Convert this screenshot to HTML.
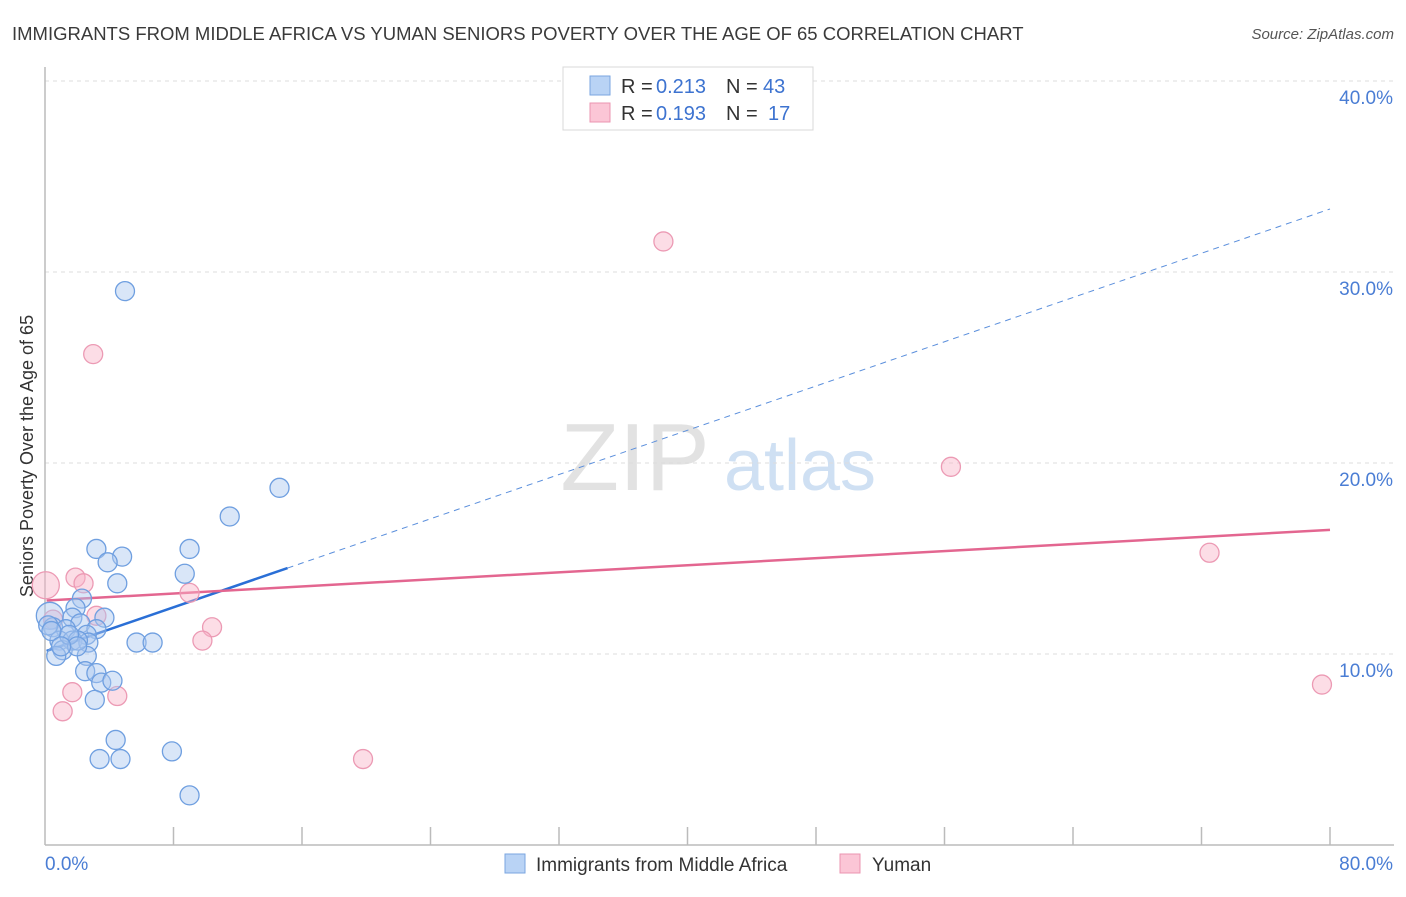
<!DOCTYPE html>
<html><head><meta charset="utf-8"><style>
body{margin:0;background:#fff;font-family:"Liberation Sans",sans-serif;}
svg text{font-family:"Liberation Sans",sans-serif;}
</style></head><body>
<svg id="chart" width="1406" height="892" xmlns="http://www.w3.org/2000/svg">
<text x="12" y="40" font-size="18.5" fill="#3a3a3a">IMMIGRANTS FROM MIDDLE AFRICA VS YUMAN SENIORS POVERTY OVER THE AGE OF 65 CORRELATION CHART</text>
<text x="1394" y="39" font-size="15" fill="#555" font-style="italic" text-anchor="end">Source: ZipAtlas.com</text>
<text transform="translate(33,456) rotate(-90)" font-size="18" fill="#333" text-anchor="middle">Seniors Poverty Over the Age of 65</text>
<g>
<text x="635" y="490" font-size="96" fill="#e2e2e2" font-family="Liberation Serif" text-anchor="middle">ZIP</text>
<text x="800" y="490" font-size="72" fill="#cfe0f3" text-anchor="middle">atlas</text>
</g>
<g id="grid"></g><g id="axes"></g><g id="trends"></g><g id="points"></g>
<g>
<rect x="563" y="67" width="250" height="63" fill="#fff" stroke="#d8d8d8"/>
<rect x="590" y="76" width="20" height="19" fill="#b9d3f5" stroke="#7aa6e0"/>
<rect x="590" y="103" width="20" height="19" fill="#fbc6d6" stroke="#eb94b0"/>
<text x="621" y="93" font-size="20" fill="#333">R =</text>
<text x="656" y="93" font-size="20" fill="#3d73d0">0.213</text>
<text x="726" y="93" font-size="20" fill="#333">N =</text>
<text x="763" y="93" font-size="20" fill="#3d73d0">43</text>
<text x="621" y="120" font-size="20" fill="#333">R =</text>
<text x="656" y="120" font-size="20" fill="#3d73d0">0.193</text>
<text x="726" y="120" font-size="20" fill="#333">N =</text>
<text x="768" y="120" font-size="20" fill="#3d73d0">17</text>
</g>
<g>
<rect x="505" y="854" width="20" height="19" fill="#b9d3f5" stroke="#7aa6e0"/>
<text x="536" y="871" font-size="19" fill="#333">Immigrants from Middle Africa</text>
<rect x="840" y="854" width="20" height="19" fill="#fbc6d6" stroke="#eb94b0"/>
<text x="872" y="871" font-size="19" fill="#333">Yuman</text>
</g>
</svg>
<script>
const seriesNames = ["Immigrants from Middle Africa", "Yuman"];
const blueX = [4.98,14.6,11.5,3.2,9.0,4.8,3.9,8.7,4.5,2.3,1.9,3.7,0.3,1.7,2.2,0.5,1.3,3.2,2.6,0.9,1.7,2.7,1.1,0.7,5.7,6.7,2.6,2.5,3.2,3.5,4.2,3.1,4.4,3.4,4.7,7.9,9.0,0.2,2.05,1.5,0.4,2.0,1.0];
const blueY = [29.0,18.7,17.2,15.5,15.5,15.1,14.8,14.2,13.7,12.9,12.4,11.9,12.0,11.9,11.6,11.4,11.3,11.3,11.0,10.7,10.7,10.6,10.2,9.9,10.6,10.6,9.9,9.1,9.0,8.5,8.6,7.6,5.5,4.5,4.5,4.9,2.6,11.5,10.7,11.0,11.2,10.4,10.4];
const pinkX = [38.5,3.0,56.4,72.5,79.5,19.8,0.05,1.9,2.4,9.0,3.2,10.4,9.8,4.5,1.7,1.1,0.5];
const pinkY = [31.6,25.7,19.8,15.3,8.4,4.5,13.6,14.0,13.7,13.2,12.0,11.4,10.7,7.8,8.0,7.0,11.8];
const blueTrend = [[0.1,10.16],[15.1,14.5],[80,33.3]];
const pinkTrend = [[0.1,12.8],[80,16.5]];
const yTicks = [10,20,30,40];
const yTickLabels = ["10.0%","20.0%","30.0%","40.0%"];
const xTickLabels = ["0.0%","80.0%"];

const X0=45,X1=1330,Y0=845,PPY=19.1;
const sx=v=>X0+(X1-X0)*v/80;
const sy=v=>Y0-PPY*v;
const NS="http://www.w3.org/2000/svg";
function mk(tag,attrs,parent,txt){const e=document.createElementNS(NS,tag);for(const k in attrs)e.setAttribute(k,attrs[k]);if(txt!==undefined)e.textContent=txt;parent.appendChild(e);return e;}
const grid=document.getElementById('grid'),axes=document.getElementById('axes'),trends=document.getElementById('trends'),pts=document.getElementById('points');
yTicks.forEach((t,i)=>{
  const l=mk('line',{x1:X0,x2:1394,y1:sy(t),y2:sy(t),stroke:'#dcdcdc','stroke-dasharray':'4,4'},grid);
  
  
  const tx=mk('text',{x:1393,y:sy(t)+23,'font-size':19,fill:'#4a7dd4','text-anchor':'end'},axes,yTickLabels[i]);
  
  
});
const ax=mk('line',{x1:X0,x2:X0,y1:67,y2:Y0,stroke:'#bbb','stroke-width':1.5},axes);


const bx=mk('line',{x1:X0,x2:1394,y1:Y0,y2:Y0,stroke:'#bbb','stroke-width':1.5},axes);


for(let i=1;i<=10;i++){const t=mk('line',{x1:sx(i*8),x2:sx(i*8),y1:Y0,y2:Y0-18,stroke:'#bbb','stroke-width':1.5},axes);
  
  }
const xl0=mk('text',{x:45,y:870,'font-size':19,fill:'#4a7dd4'},axes,xTickLabels[0]);


const xl1=mk('text',{x:1393,y:870,'font-size':19,fill:'#4a7dd4','text-anchor':'end'},axes,xTickLabels[1]);



function dot(x,y,fill,stroke,r){const c=mk('circle',{cx:sx(x),cy:sy(y),r:r,fill:fill,stroke:stroke,'stroke-width':1.3},pts);return c;}
pinkX.forEach((x,i)=>{const c=dot(x,pinkY[i],'rgba(248,180,200,0.45)','#ec9ab4',i==6?13.5:9.5);
  
  });
blueX.forEach((x,i)=>{const c=dot(x,blueY[i],'rgba(170,200,240,0.45)','#6f9fe0',i==12?13.5:9.5);
  
  });

const b1=mk('line',{x1:sx(blueTrend[0][0]),y1:sy(blueTrend[0][1]),x2:sx(blueTrend[1][0]),y2:sy(blueTrend[1][1]),stroke:'#2a6fd6','stroke-width':2.5},trends);


const b2=mk('line',{x1:sx(blueTrend[1][0]),y1:sy(blueTrend[1][1]),x2:sx(blueTrend[2][0]),y2:sy(blueTrend[2][1]),stroke:'#5b8fdc','stroke-width':1,'stroke-dasharray':'6,5'},trends);


const p1=mk('line',{x1:sx(pinkTrend[0][0]),y1:sy(pinkTrend[0][1]),x2:sx(pinkTrend[1][0]),y2:sy(pinkTrend[1][1]),stroke:'#e36690','stroke-width':2.5},trends);


</script>
</body></html>
